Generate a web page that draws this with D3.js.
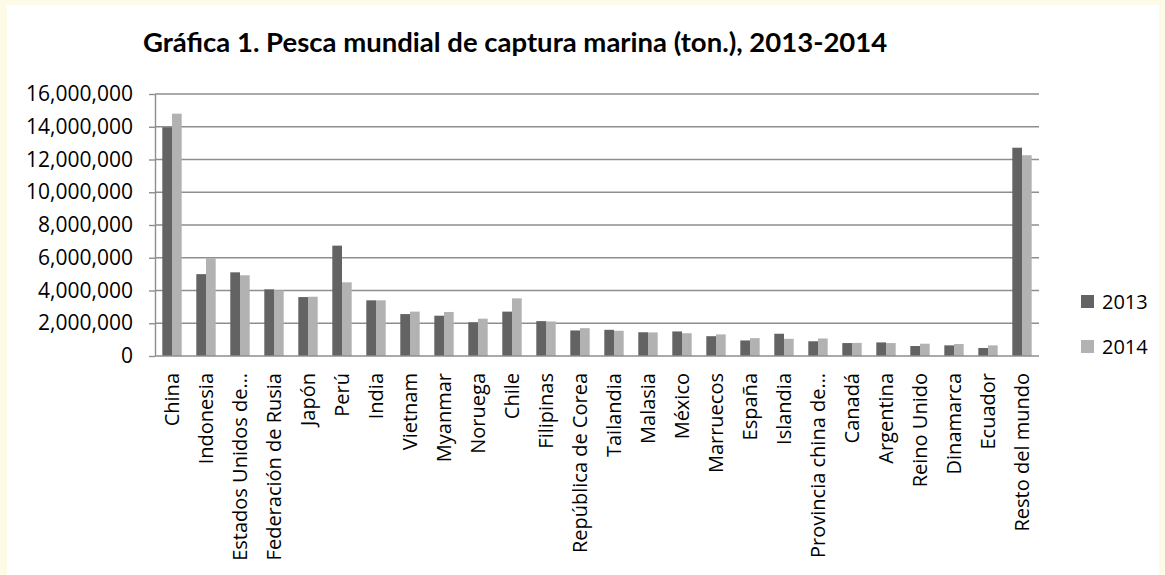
<!DOCTYPE html>
<html>
<head>
<meta charset="utf-8">
<script src="https://cdn.jsdelivr.net/npm/d3@7"></script>
<style>
  html, body { margin: 0; padding: 0; background: #fdfbe7; }
  svg { display: block; }
</style>
</head>
<body>
<script>
/***********************************************************************************/
// Data

var categories = ['China', 'Indonesia', 'Estados Unidos de…', 'Federación de Rusia', 'Japón', 'Perú',
  'India', 'Vietnam', 'Myanmar', 'Noruega', 'Chile', 'Filipinas', 'República de Corea', 'Tailandia',
  'Malasia', 'México', 'Marruecos', 'España', 'Islandia', 'Provincia china de…', 'Canadá',
  'Argentina', 'Reino Unido', 'Dinamarca', 'Ecuador', 'Resto del mundo'];

var series_names = ['2013', '2014'];

var values_2013 = [13970000, 5000000, 5110000, 4070000, 3600000, 6740000, 3400000, 2560000, 2460000,
  2060000, 2710000, 2130000, 1560000, 1600000, 1450000, 1500000, 1210000, 950000, 1360000, 900000,
  790000, 830000, 610000, 650000, 490000, 12720000];

var values_2014 = [14800000, 5970000, 4930000, 4010000, 3620000, 4500000, 3400000, 2710000, 2690000,
  2280000, 3520000, 2110000, 1700000, 1540000, 1440000, 1390000, 1320000, 1090000, 1050000, 1070000,
  800000, 790000, 750000, 730000, 650000, 12260000];

var y_ticks = [0, 2000000, 4000000, 6000000, 8000000, 10000000, 12000000, 14000000, 16000000];

var title_text = 'Gráfica 1. Pesca mundial de captura marina (ton.), 2013-2014';

/***********************************************************************************/
// Setup

var W = 1165, H = 575;
var plot = { left: 155, right: 1039, top: 94, bottom: 356 };
var colors = ['#636363', '#b2b2b2'];
var grid_color = '#8e8e8e';

var svg = d3.select('body').append('svg').attr('width', W).attr('height', H);

svg.append('rect').attr('x', 7).attr('y', 5).attr('width', 1152).attr('height', H - 5).attr('fill', '#ffffff');

var x0 = d3.scaleBand().domain(categories).range([plot.left, plot.right]).paddingInner(0.43).paddingOuter(0.215);
var x1 = d3.scaleBand().domain(series_names).range([0, x0.bandwidth()]);
var y = d3.scaleLinear().domain([0, 16000000]).range([plot.bottom, plot.top]);

var rows = categories.map(function(c, i){ return { cat: c, vals: [values_2013[i], values_2014[i]] }; });

/***********************************************************************************/
// Title

svg.append('text')
  .attr('x', 143).attr('y', 52)
  .style('font-family', 'Lato, sans-serif').style('font-weight', 'bold').style('font-size', '27.5px')
  .attr('fill', '#000')
  .text(title_text);

/***********************************************************************************/
// Grid + y axis

svg.append('g').selectAll('line').data(y_ticks.slice(1)).join('line')
  .attr('x1', plot.left).attr('x2', plot.right)
  .attr('y1', function(d){ return y(d); }).attr('y2', function(d){ return y(d); })
  .attr('stroke', grid_color).attr('stroke-width', 1.4);

var yAxis = d3.axisLeft(y).tickValues(y_ticks).tickFormat(d3.format(',')).tickSizeInner(6).tickSizeOuter(0).tickPadding(16);
var gy = svg.append('g').attr('transform', 'translate(' + plot.left + ',0)').call(yAxis);
gy.select('.domain').attr('stroke', grid_color).attr('stroke-width', 1.4);
gy.selectAll('.tick line').attr('stroke', grid_color).attr('stroke-width', 1.4);
gy.selectAll('.tick text').style('font-family', '"Open Sans", sans-serif').style('font-size', '21px').attr('fill', '#000');

/***********************************************************************************/
// Bars

var groups = svg.append('g').selectAll('g').data(rows).join('g')
  .attr('transform', function(d){ return 'translate(' + x0(d.cat) + ',0)'; });

groups.selectAll('rect').data(function(d){ return d.vals.map(function(v, k){ return { key: series_names[k], v: v, k: k }; }); })
  .join('rect')
  .attr('x', function(d){ return x1(d.key); })
  .attr('width', x1.bandwidth())
  .attr('y', function(d){ return y(d.v); })
  .attr('height', function(d){ return y(0) - y(d.v); })
  .attr('fill', function(d){ return colors[d.k]; });

/***********************************************************************************/
// X axis

svg.append('line')
  .attr('x1', plot.left).attr('x2', plot.right).attr('y1', y(0)).attr('y2', y(0))
  .attr('stroke', grid_color).attr('stroke-width', 1.4);

svg.append('g').selectAll('text').data(categories).join('text')
  .attr('transform', function(d){ return 'translate(' + (x0(d) + x0.bandwidth() / 2) + ',' + 373 + ') rotate(-90)'; })
  .attr('text-anchor', 'end').attr('dy', '0.35em')
  .style('font-family', '"Open Sans", sans-serif').style('font-size', '20px').attr('fill', '#000')
  .text(function(d){ return d; });

/***********************************************************************************/
// Legend

var legend = svg.append('g').selectAll('g').data(series_names).join('g')
  .attr('transform', function(d, i){ return 'translate(1081,' + (295 + i * 45) + ')'; });
legend.append('rect').attr('width', 13).attr('height', 13).attr('fill', function(d, i){ return colors[i]; });
legend.append('text').attr('x', 21).attr('y', 14)
  .style('font-family', '"Open Sans", sans-serif').style('font-size', '20px').attr('fill', '#000')
  .text(function(d){ return d; });
</script>
</body>
</html>
